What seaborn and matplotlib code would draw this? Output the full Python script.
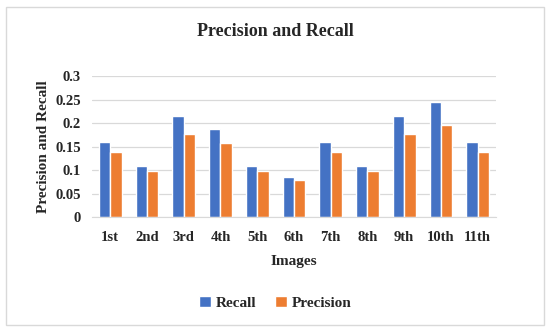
import matplotlib
matplotlib.use("Agg")
import matplotlib.pyplot as plt
import seaborn as sns
import pandas as pd
from matplotlib.patches import Rectangle

# data
images = ["1st", "2nd", "3rd", "4th", "5th", "6th", "7th", "8th", "9th", "10th", "11th"]
recall = [0.16, 0.108, 0.214, 0.187, 0.108, 0.086, 0.16, 0.108, 0.214, 0.244, 0.16]
precision = [0.138, 0.098, 0.177, 0.157, 0.098, 0.079, 0.138, 0.098, 0.177, 0.196, 0.138]
yticks = [0, 0.05, 0.1, 0.15, 0.2, 0.25, 0.3]
ytick_labels = ["0", "0.05", "0.1", "0.15", "0.2", "0.25", "0.3"]

df = pd.DataFrame({
    "Images": images * 2,
    "value": recall + precision,
    "series": ["Recall"] * len(images) + ["Precision"] * len(images),
})

sns.set_style("white")
plt.rcParams["font.family"] = ["Liberation Serif", "DejaVu Serif"]
plt.rcParams["font.weight"] = "bold"

fig = plt.figure(figsize=(5.5, 3.32), dpi=100)
ax = fig.add_axes([0.167, 0.346, 0.735, 0.425])

sns.barplot(data=df, x="Images", y="value", hue="series",
            palette={"Recall": "#4472C4", "Precision": "#ED7D31"},
            width=0.62, gap=0, ax=ax, legend=True, saturation=1)

ax.set_ylim(0, 0.3)
ax.set_xlim(-0.5, len(images) - 0.5)
ax.set_yticks(yticks)
ax.set_yticklabels(ytick_labels, fontsize=10.5, fontweight="bold")
ax.set_xticklabels(images, fontsize=10.5, fontweight="bold")
ax.tick_params(axis="y", length=0, pad=8)
ax.tick_params(axis="x", length=0, pad=10)
ax.yaxis.grid(True, color="#D9D9D9", linewidth=0.9)
ax.set_axisbelow(True)
for s in ["top", "right", "left"]:
    ax.spines[s].set_visible(False)
ax.spines["bottom"].set_color("#D9D9D9")

ax.set_xlabel("Images", fontsize=11, fontweight="bold", labelpad=8)
ax.set_ylabel("Precision and Recall", fontsize=11, fontweight="bold", labelpad=4)
fig.text(0.5, 0.905, "Precision and Recall", ha="center", va="center",
         fontsize=13, fontweight="bold")

handles, labels = ax.get_legend_handles_labels()
ax.legend(handles, labels, loc="center", bbox_to_anchor=(0.5, 0.088),
          bbox_transform=fig.transFigure, ncol=2, frameon=False,
          fontsize=11, handlelength=0.8, handleheight=0.8,
          handletextpad=0.3, columnspacing=1.2)

# light frame around the chart area
fig.patches.append(Rectangle((0.011, 0.02), 0.978, 0.96, transform=fig.transFigure,
                             fill=False, edgecolor="#D9D9D9", linewidth=1))

fig.savefig("out.png", dpi=100)
